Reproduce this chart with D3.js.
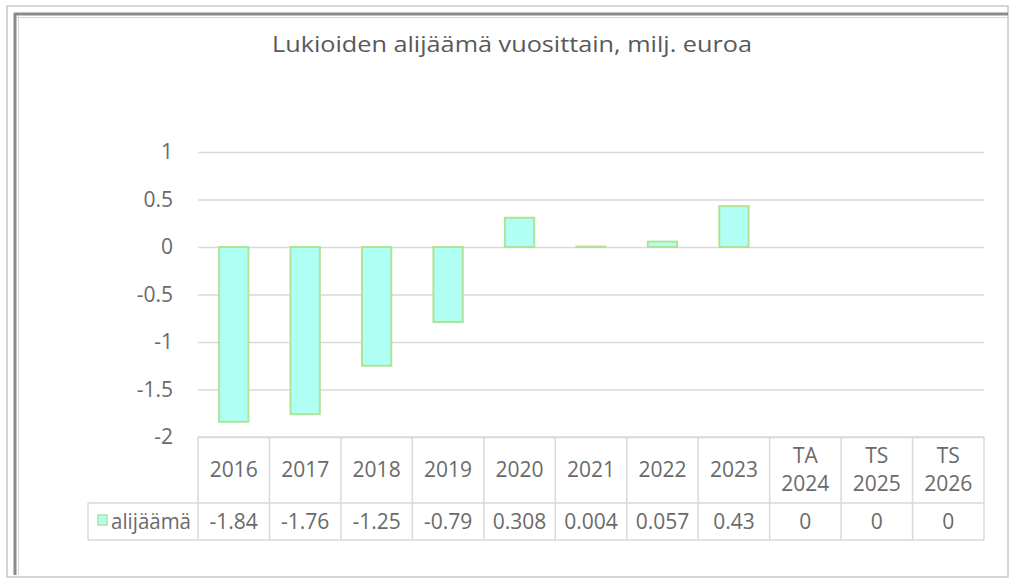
<!DOCTYPE html>
<html>
<head>
<meta charset="utf-8">
<script src="https://cdn.jsdelivr.net/npm/d3@7"></script>
<style>
  body { margin: 0; background: #fff; }
  svg { display: block; font-family: "Open Sans", sans-serif; }
</style>
</head>
<body>
<div id="canvas"></div>
<script>
// chart data
var title = "Lukioiden alijäämä vuosittain, milj. euroa";
var seriesName = "alijäämä";
var categories = ["2016","2017","2018","2019","2020","2021","2022","2023","TA 2024","TS 2025","TS 2026"];
var values = [-1.84,-1.76,-1.25,-0.79,0.308,0.004,0.057,0.43,0,0,0];
var yTicks = [-2,-1.5,-1,-0.5,0,0.5,1];

var W = 1010, H = 579;
var m = {t:152, l:198, r:984, b:437};
var row1 = 503, row2 = 540, legendLeft = 88;
var textColor = '#6a6a6a', lineColor = '#d9d9d9';
var fs = 21;

var svg = d3.select('#canvas').append('svg')
    .attr('width', W)
    .attr('height', H);

// frame (picture border with shadow)
svg.append('rect').attr('x',7).attr('y',6).attr('width',1001).attr('height',571)
    .attr('fill','#fff').attr('stroke','#c8c8c8').attr('stroke-width',1.5);
svg.append('line').attr('x1',15).attr('x2',15).attr('y1',13).attr('y2',575)
    .attr('stroke','#8a8a8a').attr('stroke-width',3);
svg.append('line').attr('x1',14).attr('x2',1008).attr('y1',14).attr('y2',14)
    .attr('stroke','#8a8a8a').attr('stroke-width',3);
svg.append('line').attr('x1',18.5).attr('x2',18.5).attr('y1',16).attr('y2',575)
    .attr('stroke','#d6d6d6').attr('stroke-width',1);
svg.append('line').attr('x1',17).attr('x2',1008).attr('y1',17.5).attr('y2',17.5)
    .attr('stroke','#d6d6d6').attr('stroke-width',1);

// title
svg.append('text')
    .attr('x', 512).attr('y', 52)
    .attr('text-anchor','middle')
    .attr('font-size', 22)
    .attr('fill', '#595959')
    .attr('textLength', 480)
    .attr('lengthAdjust','spacingAndGlyphs')
    .text(title);

// scales
var scaleY = d3.scaleLinear().domain([-2,1]).range([m.b, m.t]);
var scaleX = d3.scaleBand().domain(categories).range([m.l, m.r])
    .paddingInner(0.59).paddingOuter(0.295);
var cellX = d3.scaleBand().domain(categories).range([m.l, m.r]);

// y axis with gridlines
var axisY = d3.axisLeft(scaleY)
    .tickValues(yTicks)
    .tickSize(-(m.r - m.l))
    .tickPadding(25)
    .tickFormat(function(d){ return String(d); });

var gy = svg.append('g')
    .attr('class','axis axis-y')
    .attr('transform','translate(' + m.l + ',0)')
    .call(axisY);
gy.select('.domain').remove();
gy.selectAll('line').attr('stroke', lineColor).attr('stroke-width', 1.3);
gy.selectAll('text').attr('fill', textColor).attr('font-size', fs)
    .attr('font-family','"Open Sans", sans-serif');

// bars
svg.selectAll('.bar')
    .data(categories.map(function(c,i){ return {cat:c, v:values[i]}; })
        .filter(function(d){ return d.v !== 0; }))
    .enter().append('rect')
    .attr('class','bar')
    .attr('x', function(d){ return scaleX(d.cat); })
    .attr('width', scaleX.bandwidth())
    .attr('y', function(d){ return scaleY(Math.max(d.v,0)); })
    .attr('height', function(d){ return Math.abs(scaleY(d.v) - scaleY(0)); })
    .attr('fill', '#affff4')
    .attr('stroke', '#b0e396')
    .attr('stroke-width', 2);

// data table
var table = svg.append('g').attr('class','table')
    .attr('stroke', lineColor).attr('stroke-width', 1.5);
table.append('line').attr('x1',m.l).attr('x2',m.r).attr('y1',m.b).attr('y2',m.b);
table.append('line').attr('x1',legendLeft).attr('x2',m.r).attr('y1',row1).attr('y2',row1);
table.append('line').attr('x1',legendLeft).attr('x2',m.r).attr('y1',row2).attr('y2',row2);
table.append('line').attr('x1',legendLeft).attr('x2',legendLeft).attr('y1',row1).attr('y2',row2);
table.selectAll('.vline')
    .data(categories)
    .enter().append('line')
    .attr('class','vline')
    .attr('x1', function(d){ return cellX(d); })
    .attr('x2', function(d){ return cellX(d); })
    .attr('y1', m.b).attr('y2', row2);
table.append('line').attr('x1',m.r).attr('x2',m.r).attr('y1',m.b).attr('y2',row2);

// category labels (may wrap to two lines)
var catText = svg.selectAll('.cat')
    .data(categories)
    .enter().append('text')
    .attr('class','cat')
    .attr('text-anchor','middle')
    .attr('font-size', fs)
    .attr('fill', textColor);
catText.each(function(d){
    var parts = d.split(' ');
    var cx = cellX(d) + cellX.bandwidth()/2;
    var sel = d3.select(this);
    if (parts.length === 1) {
        sel.append('tspan').attr('x', cx).attr('y', 477).text(parts[0]);
    } else {
        sel.append('tspan').attr('x', cx).attr('y', 463).text(parts[0]);
        sel.append('tspan').attr('x', cx).attr('y', 491).text(parts[1]);
    }
});

// values row
svg.selectAll('.val')
    .data(values)
    .enter().append('text')
    .attr('class','val')
    .attr('text-anchor','middle')
    .attr('x', function(d,i){ return cellX(categories[i]) + cellX.bandwidth()/2; })
    .attr('y', 529)
    .attr('font-size', fs)
    .attr('fill', textColor)
    .text(function(d){ return String(d); });

// legend key
svg.append('rect')
    .attr('x', 98).attr('y', 515).attr('width', 9).attr('height', 10)
    .attr('fill', '#affff4').attr('stroke', '#b0e396').attr('stroke-width', 1.5);
svg.append('text')
    .attr('x', 111).attr('y', 529)
    .attr('font-size', fs)
    .attr('fill', textColor)
    .attr('textLength', 80)
    .attr('lengthAdjust', 'spacingAndGlyphs')
    .text(seriesName);
</script>
</body>
</html>
